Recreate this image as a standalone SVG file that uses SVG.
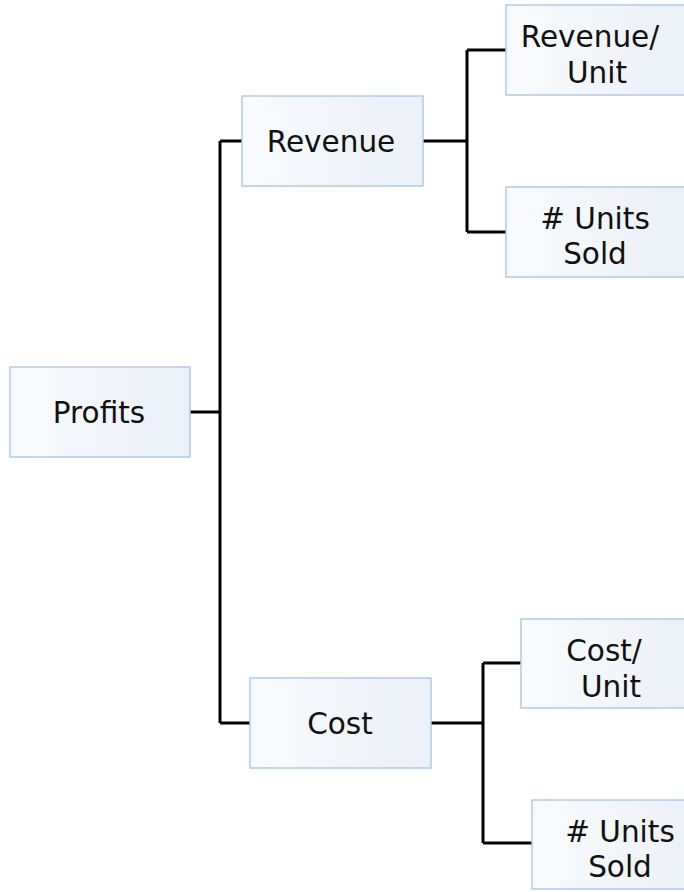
<svg xmlns="http://www.w3.org/2000/svg" width="684" height="892" viewBox="0 0 684 892">
  <defs>
    <linearGradient id="boxFill" x1="0" y1="0" x2="1" y2="0">
      <stop offset="0" stop-color="#f9fbfd"/>
      <stop offset="1" stop-color="#ebf0f7"/>
    </linearGradient>
    <style>
      .box { fill: url(#boxFill); stroke: #b3cae6; stroke-width: 1.5; }
      .lbl { font-family: "DejaVu Sans", Verdana, sans-serif; font-size: 29.5px; fill: #111; text-anchor: middle; }
      .wire { fill: none; stroke: #000; stroke-width: 3; }
    </style>
  </defs>
  <rect width="684" height="892" fill="#ffffff"/>

  <!-- connectors -->
  <g id="connectors">
    <path class="wire" d="M190 412 H220 M220 141 V723 M220 141 H242 M220 723 H250"/>
    <path class="wire" d="M423 141 H467 M467 50 V232 M467 50 H506 M467 232 H506"/>
    <path class="wire" d="M431 723 H483 M483 663 V843 M483 663 H521 M483 843 H532"/>
  </g>

  <g id="profits">
    <rect class="box" x="10" y="367" width="180" height="90"/>
    <text class="lbl" x="99" y="423">Profits</text>
  </g>

  <g id="revenue">
    <rect class="box" x="242" y="96" width="181" height="90"/>
    <text class="lbl" x="331" y="152">Revenue</text>
  </g>

  <g id="revenue-per-unit">
    <rect class="box" x="506" y="5" width="180" height="90"/>
    <text class="lbl" x="590" y="47">Revenue/</text>
    <text class="lbl" x="597" y="83">Unit</text>
  </g>

  <g id="revenue-units-sold">
    <rect class="box" x="506" y="187" width="180" height="90"/>
    <text class="lbl" x="595" y="229"># Units</text>
    <text class="lbl" x="595" y="264">Sold</text>
  </g>

  <g id="cost">
    <rect class="box" x="250" y="678" width="181" height="90"/>
    <text class="lbl" x="340" y="734">Cost</text>
  </g>

  <g id="cost-per-unit">
    <rect class="box" x="521" y="619" width="180" height="89"/>
    <text class="lbl" x="604" y="661">Cost/</text>
    <text class="lbl" x="611" y="697">Unit</text>
  </g>

  <g id="cost-units-sold">
    <rect class="box" x="532" y="800" width="180" height="89"/>
    <text class="lbl" x="620" y="842"># Units</text>
    <text class="lbl" x="620" y="877">Sold</text>
  </g>
</svg>
